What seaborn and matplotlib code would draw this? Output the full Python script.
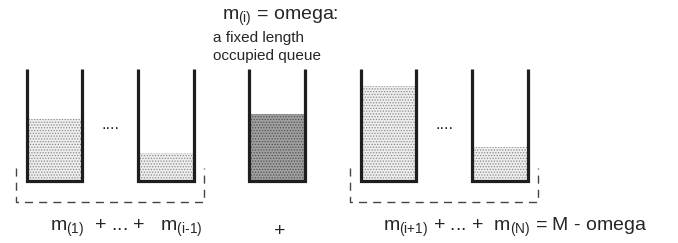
import matplotlib
matplotlib.use("Agg")
import matplotlib.pyplot as plt
import seaborn as sns
import pandas as pd

# queues and how full each one is (fraction of capacity)
queues = ["m(1)", "m(i-1)", "m(i)", "m(i+1)", "m(N)"]
fill = [0.55, 0.25, 0.60, 0.85, 0.30]
kind = ["rest", "rest", "omega", "rest", "rest"]

df = pd.DataFrame({"queue": queues, "fill": fill, "kind": kind})

sns.set_theme(style="white")
plt.rcParams["font.family"] = ["Liberation Sans", "DejaVu Sans"]
plt.rcParams["mathtext.fontset"] = "custom"
plt.rcParams["mathtext.rm"] = "Liberation Sans"
plt.rcParams["mathtext.it"] = "Liberation Sans"
plt.rcParams["hatch.linewidth"] = 0.6

fig = plt.figure(figsize=(6.78, 2.43), dpi=100)
ax = fig.add_axes([0, 0, 1, 1])

w = 0.5
sns.barplot(data=df, x="queue", y="fill", order=queues, width=w,
            color="white", ax=ax)

for bar, k in zip(ax.patches, df["kind"]):
    if k == "omega":
        bar.set_facecolor("#a0a0a0")
        bar.set_edgecolor("#505050")
    else:
        bar.set_facecolor("#eeeeee")
        bar.set_edgecolor("#8a8a8a")
    bar.set_hatch("......")
    bar.set_linewidth(0)

# queue walls
for i in range(len(queues)):
    ax.plot([i - w / 2, i - w / 2, i + w / 2, i + w / 2], [1, 0, 0, 1],
            color="#1e1e1e", lw=2.3, solid_joinstyle="miter",
            solid_capstyle="butt")

# dashed brackets around the other queues
for a, b in [(0, 1), (3, 4)]:
    x0, x1 = a - 0.345, b + 0.34
    ax.plot([x0, x0, x1, x1], [0.116, -0.1875, -0.1875, 0.116],
            color="#444444", lw=1.0, dashes=(5.8, 4.4))

ax.text(0.5, 0.464, "....", ha="center", va="baseline", fontsize=12,
        color="#222222")
ax.text(3.5, 0.464, "....", ha="center", va="baseline", fontsize=12,
        color="#222222")

ax.text(1.5, 1.4375, r"m$_{\text{(i)}}$ = omega:", ha="left", va="baseline",
        fontsize=14)
ax.text(1.42, 1.241, "a fixed length", ha="left", va="baseline", fontsize=11)
ax.text(1.42, 1.08, "occupied queue", ha="left", va="baseline", fontsize=11)

ax.text(-0.04, -0.446, r"m$_{\text{(1)}}$  + ... +   m$_{\text{(i-1)}}$",
        ha="left", va="baseline", fontsize=14)
ax.text(2.02, -0.49, "+", ha="center", va="baseline", fontsize=14)
ax.text(2.95, -0.446,
        r"m$_{\text{(i+1)}}$ + ... +  m$_{\text{(N)}}$ = M - omega",
        ha="left", va="baseline", fontsize=14)

ax.set_xlim(-0.49, 5.6)
ax.set_ylim(-0.554, 1.616)
ax.axis("off")

fig.savefig("out.png", dpi=100)
